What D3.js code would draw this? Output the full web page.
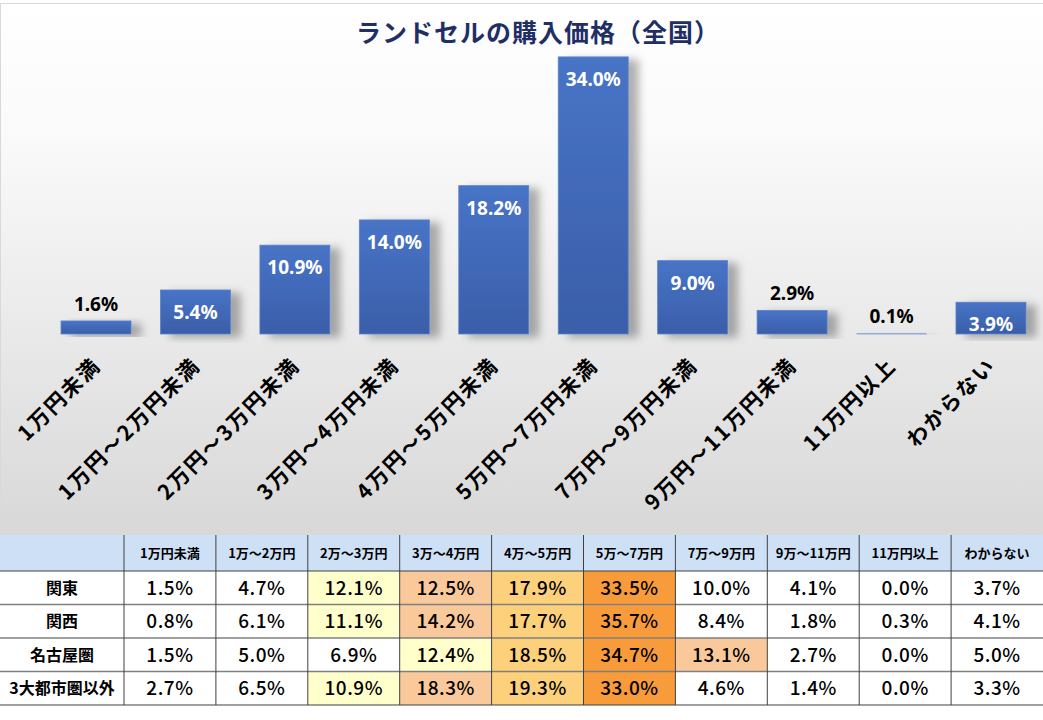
<!DOCTYPE html>
<html><head><meta charset="utf-8">
<script src="https://cdn.jsdelivr.net/npm/d3@7/dist/d3.min.js"></script>
<style>
html,body{margin:0;padding:0;background:#fff;}
svg{display:block;font-family:"Noto Sans CJK JP","Noto Sans",sans-serif;}
</style></head>
<body>
<svg id="c" width="1043" height="720"></svg>
<script>
const title = "ランドセルの購入価格（全国）";
const categories = ["1万円未満","1万円～2万円未満","2万円～3万円未満","3万円～4万円未満","4万円～5万円未満","5万円～7万円未満","7万円～9万円未満","9万円～11万円未満","11万円以上","わからない"];
const nationalValues = [1.6, 5.4, 10.9, 14.0, 18.2, 34.0, 9.0, 2.9, 0.1, 3.9];

const tableColumns = ["1万円未満","1万～2万円","2万～3万円","3万～4万円","4万～5万円","5万～7万円","7万～9万円","9万～11万円","11万円以上","わからない"];
const regions = ["関東","関西","名古屋圏","3大都市圏以外"];
const kantoValues = [1.5, 4.7, 12.1, 12.5, 17.9, 33.5, 10.0, 4.1, 0.0, 3.7];
const kansaiValues = [0.8, 6.1, 11.1, 14.2, 17.7, 35.7, 8.4, 1.8, 0.3, 4.1];
const nagoyaValues = [1.5, 5.0, 6.9, 12.4, 18.5, 34.7, 13.1, 2.7, 0.0, 5.0];
const otherValues = [2.7, 6.5, 10.9, 18.3, 19.3, 33.0, 4.6, 1.4, 0.0, 3.3];
const regionValues = [kantoValues, kansaiValues, nagoyaValues, otherValues];

const svg = d3.select("#c");
const defs = svg.append("defs");
const bg = defs.append("linearGradient").attr("id","bg").attr("x1",0).attr("y1",0).attr("x2",0).attr("y2",1);
bg.append("stop").attr("offset","0%").attr("stop-color","#ffffff");
bg.append("stop").attr("offset","25%").attr("stop-color","#fafafa");
bg.append("stop").attr("offset","100%").attr("stop-color","#d8d8d8");
const bargrad = defs.append("linearGradient").attr("id","bar").attr("x1",0).attr("y1",0).attr("x2",0).attr("y2",1);
bargrad.append("stop").attr("offset","0%").attr("stop-color","#4874c6");
bargrad.append("stop").attr("offset","100%").attr("stop-color","#3a5ea9");
const sh = defs.append("filter").attr("id","sh").attr("x","-20%").attr("y","-20%").attr("width","160%").attr("height","140%");
sh.append("feDropShadow").attr("dx",10).attr("dy",3).attr("stdDeviation",4).attr("flood-color","#000").attr("flood-opacity",0.3);

// chart area background
svg.append("rect").attr("x",0.5).attr("y",3.5).attr("width",1043).attr("height",531)
  .attr("fill","url(#bg)").attr("stroke","#d9d9d9").attr("stroke-width",1);

svg.append("text").attr("x",538).attr("y",42).attr("text-anchor","middle")
  .attr("font-size",25).attr("font-weight","bold").attr("letter-spacing",1)
  .attr("fill","#1f2f66").text(title);

const x = d3.scaleBand().domain(categories).range([46.3,1040.7]).paddingInner(0.296).paddingOuter(0.148);
const y = d3.scaleLinear().domain([0,40]).range([334,8]);

const g = svg.append("g");
g.selectAll("rect.bar").data(categories).join("rect").attr("class","bar")
  .attr("x",d=>x(d)).attr("width",x.bandwidth())
  .attr("y",(d,i)=>y(nationalValues[i]))
  .attr("height",(d,i)=>Math.max(1.2, y(0)-y(nationalValues[i])))
  .attr("fill",(d,i)=> nationalValues[i] < 0.5 ? "#7f9fd8" : "url(#bar)")
  .attr("stroke",(d,i)=> nationalValues[i] < 0.5 ? "none" : "#5b82cc").attr("stroke-width",0.8)
  .attr("filter","url(#sh)");

g.selectAll("text.val").data(categories).join("text").attr("class","val")
  .attr("x",d=>x(d)+x.bandwidth()/2)
  .attr("y",(d,i)=> nationalValues[i] >= 3.5 ? y(nationalValues[i])+29 : y(nationalValues[i])-10)
  .attr("text-anchor","middle").attr("font-size",19).attr("font-weight","bold")
  .attr("font-family","'Noto Sans','Open Sans',sans-serif")
  .attr("fill",(d,i)=> nationalValues[i] >= 3.5 ? "#ffffff" : "#000000")
  .text((d,i)=> nationalValues[i].toFixed(1)+"%");

// x-axis labels
const xa = svg.append("g")
  .call(d3.axisBottom(x).tickSize(0).tickPadding(0));
xa.select(".domain").remove();
xa.selectAll(".tick text")
  .attr("font-size",21).attr("font-weight","bold").attr("fill","#000")
  .attr("font-family","'Noto Sans CJK JP',sans-serif")
  .attr("letter-spacing",2)
  .attr("text-anchor","end").attr("dy",null).attr("y",0).attr("x",0)
  .attr("transform","rotate(-45)");
xa.selectAll(".tick").attr("transform",d=>`translate(${x(d)+x.bandwidth()/2+6},367)`);

// table
const tTop = 535, hH = 36, tBottom = 705;
const cx = d3.scaleBand().domain(tableColumns).range([124,1043]);
const ry = d3.scaleBand().domain(regions).range([tTop+hH, tBottom]);
const tg = svg.append("g");
tg.append("rect").attr("x",0).attr("y",tTop).attr("width",1043).attr("height",hH).attr("fill","#cde0f6");
tg.append("rect").attr("x",0).attr("y",tTop+hH).attr("width",1043).attr("height",tBottom-tTop-hH).attr("fill","#ffffff");

const rankColors = ["#f89b3b","#fdd17b","#f9c99c","#ffffcc"];
regions.forEach((r,ri)=>{
  const vals = regionValues[ri];
  const sorted = vals.slice().sort((a,b)=>b-a);
  tableColumns.forEach((c,ci)=>{
    const rank = sorted.indexOf(vals[ci]);
    if(rank < 4){
      tg.append("rect").attr("x",cx(c)).attr("y",ry(r)).attr("width",cx.bandwidth()).attr("height",ry.bandwidth())
        .attr("fill",rankColors[rank]);
    }
    tg.append("text").attr("x",cx(c)+cx.bandwidth()/2).attr("y",ry(r)+ry.bandwidth()/2+7)
      .attr("text-anchor","middle").attr("font-size",19).attr("font-weight",500)
      .attr("letter-spacing",0.5).attr("fill","#000").text(vals[ci].toFixed(1)+"%");
  });
  const rt = tg.append("text").attr("x",0).attr("y",ry(r)+ry.bandwidth()/2+6)
    .attr("text-anchor","start").attr("font-size",16).attr("font-weight","bold")
    .attr("fill","#000").text(r);
  const len = rt.node().getComputedTextLength();
  rt.attr("x", cx.range()[0]/2 - len/2);
});
tableColumns.forEach(c=>{
  tg.append("text").attr("x",cx(c)+cx.bandwidth()/2).attr("y",tTop+hH/2+5)
    .attr("text-anchor","middle").attr("font-size",13).attr("font-weight","bold").attr("fill","#000").text(c);
});
// grid lines
regions.forEach((r,ri)=>{
  if(ri>0) tg.append("line").attr("x1",0).attr("x2",1043).attr("y1",ry(r)).attr("y2",ry(r))
    .attr("stroke","#7f7f7f").attr("stroke-width",1.5);
});
tg.append("line").attr("x1",0).attr("x2",1043).attr("y1",tTop+hH).attr("y2",tTop+hH).attr("stroke","#404040").attr("stroke-width",1);
tg.append("line").attr("x1",0).attr("x2",1043).attr("y1",tBottom).attr("y2",tBottom).attr("stroke","#404040").attr("stroke-width",1.2);
tableColumns.forEach(c=>{
  tg.append("line").attr("x1",cx(c)).attr("x2",cx(c)).attr("y1",tTop).attr("y2",tBottom).attr("stroke","#404040").attr("stroke-width",1);
});
</script>
</body></html>
